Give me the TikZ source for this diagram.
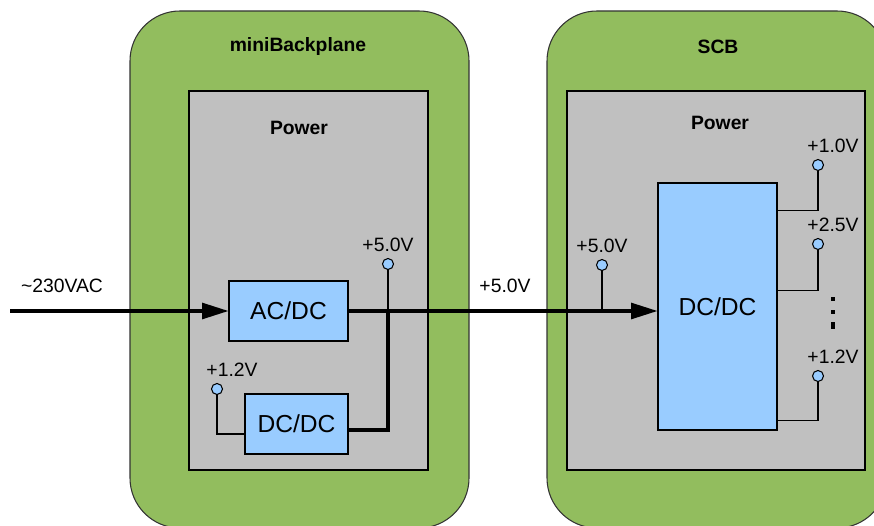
\documentclass[tikz,border=0pt]{standalone}
\usepackage{fontspec}
\setmainfont{Liberation Sans}
\usetikzlibrary{arrows.meta}
\definecolor{boardgreen}{RGB}{146,189,94}
\definecolor{panelgrey}{RGB}{192,192,192}
\definecolor{convblue}{RGB}{153,204,255}
\tikzset{
  board/.style={draw=black!80, fill=boardgreen, rounded corners=1cm, line width=0.6pt},
  panel/.style={draw=black, fill=panelgrey, line width=0.6pt},
  conv/.style={draw=black, fill=convblue, line width=0.6pt, inner sep=0pt, font=\fontsize{14}{16}\selectfont},
  pin/.style={draw=black, fill=convblue, circle, inner sep=0pt, minimum size=0.22cm, line width=0.6pt},
  title/.style={font=\fontsize{11}{13}\selectfont\bfseries},
  wire/.style={line width=0.6pt},
  power/.style={line width=1.8pt},
  feed/.style={power, -{Triangle[length=15pt,width=9pt]}}
}

\begin{document}
\begin{tikzpicture}[x=0.02cm, y=-0.02cm, font=\fontsize{11}{13}\selectfont]
    \useasboundingbox (0,0) rectangle (874,526);
    \clip (0,0) rectangle (874,526);

    % boards
    \draw [board] (130,11) rectangle (469,528);
    \draw [board] (547,11) rectangle (887,528);
    \node [title] (mbp) at (298,47) {miniBackplane};
    \node [title] (scb) at (718,47) {SCB};

    % power sections
    \draw [panel] (189,91) rectangle (428,470);
    \draw [panel] (567,91) rectangle (865,470);
    \node [title] (pwrA) at (299,128) {Power};
    \node [title] (pwrB) at (720,123) {Power};

    % converters
    \node [conv, minimum width=2.38cm, minimum height=1.2cm] (acdc) at (288.5,311) {AC/DC};
    \node [conv, minimum width=2.06cm, minimum height=1.2cm] (dcdcA) at (296.5,424) {DC/DC};
    \node [conv, minimum width=2.38cm, minimum height=4.94cm] (dcdcB) at (717.5,306.5) {DC/DC};

    % pins
    \node [pin, label=above:+5.0V] (p5A) at (388,264) {};
    \node [pin, label={[xshift=0.3cm]above:+1.2V}] (p12A) at (217,389) {};
    \node [pin, label=above:+5.0V] (p5B) at (602,265) {};
    \node [pin, label={[xshift=0.3cm]above:+1.0V}] (p10) at (818,165) {};
    \node [pin, label={[xshift=0.3cm]above:+2.5V}] (p25) at (818,244) {};
    \node [pin, label={[xshift=0.3cm]above:+1.2V}] (p12B) at (818,376) {};

    \node (vac) at (62,286) {\textasciitilde230VAC};
    \node (v5) at (505,286) {+5.0V};

    \coordinate (ac) at (10,311);
    \coordinate (j) at (p5A |- acdc.east);

    \draw [feed] (ac) -- (acdc);
    \draw [feed] (acdc.east) -- (acdc.east -| dcdcB.west);
    \draw [power] (j) |- ([yshift=-0.12cm]dcdcA.east);
    \draw [wire] (p5A) -- (j);
    \draw [wire] (p5B) -- (p5B |- acdc.east);
    \draw [wire] (p12A) |- ([yshift=-0.2cm]dcdcA.west);

    \draw [wire] ([yshift=-0.56cm]dcdcB.north east) -| (p10);
    \draw [wire] ([yshift=-2.16cm]dcdcB.north east) -| (p25);
    \draw [wire] ([yshift=-4.76cm]dcdcB.north east) -| (p12B);

    \foreach \y/\h in {297/4, 310/4, 322/7}
        \fill (831,\y) rectangle ++(4,\h);

\end{tikzpicture}
\end{document}
